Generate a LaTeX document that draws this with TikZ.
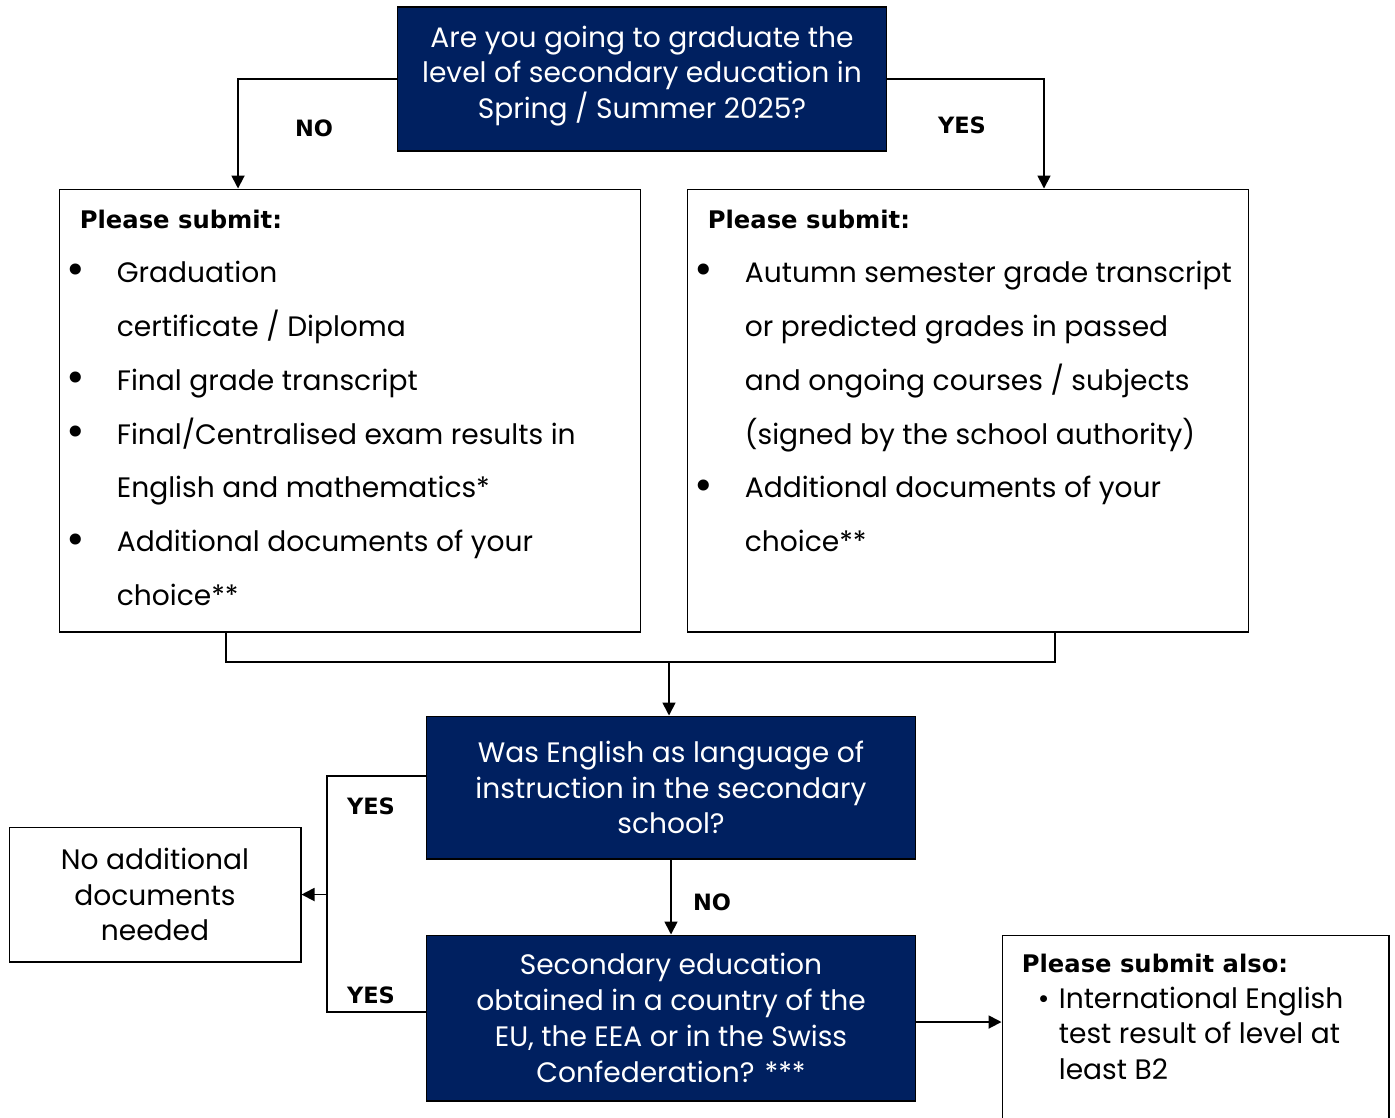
\documentclass[tikz,border=0pt]{standalone}
\usepackage{fontspec}
\setmainfont{Poppins}
\newfontfamily\headfont{DejaVu Sans}
\usetikzlibrary{positioning, arrows.meta}
\definecolor{colorQuestion}{RGB}{0,32,96}

\newcommand{\bul}{\raisebox{-0.15ex}{\scalebox{1.6}{\textbullet}}}
\newcommand{\itm}{\makebox[0.84cm][l]{\hspace*{-0.16cm}\bul}}
\newcommand{\cnt}{\hspace*{0.84cm}}

\begin{document}
\begin{tikzpicture}[
    x=0.02cm, y=-0.02cm,
    question/.style={rectangle, draw=black, fill=colorQuestion, text=white, line width=0.6pt,
                minimum width=9.8cm, align=center, inner sep=0pt, font=\fontsize{16}{20.4}\selectfont},
    listbox/.style={rectangle, draw=black, line width=0.6pt, inner sep=0pt},
    listtext/.style={anchor=north west, align=left, inner sep=0pt, font=\fontsize{16}{30.7}\selectfont},
    answer/.style={font=\headfont\bfseries\fontsize{12.8}{15}\selectfont},
    arrow/.style={-{Triangle[length=0.26cm, width=0.26cm]}, line width=1pt},
    link/.style={line width=1pt}
]
\useasboundingbox (0,0) rectangle (1395,1117);

% Question nodes
\node[question, minimum height=2.88cm, text depth=0.27cm] (Top) at (642,79) {Are you going to graduate the\\
level of secondary education in\\
Spring / Summer 2025?};

\node[question, minimum height=2.86cm] (Mid) at (671,787.5) {Was English as language of\\
instruction in the secondary\\
school?};

\node[question, minimum height=3.32cm] (Country) at (671,1018) {Secondary education\\
obtained in a country of the\\
EU, the EEA or in the Swiss\\
Confederation? ***};

% Document boxes
\node[listbox, minimum width=11.64cm, minimum height=8.86cm] (Left) at (350,410.5) {};
\node[listtext, below right=0.42cm and 0.32cm of Left.north west] (LeftText) {%
\hspace*{0.1cm}{\headfont\bfseries\fontsize{13.8}{15}\selectfont Please submit:}\\
\itm Graduation\\
\cnt certificate / Diploma\\
\itm Final grade transcript\\
\itm Final/Centralised exam results in\\
\cnt English and mathematics*\\
\itm Additional documents of your\\
\cnt choice**};

\node[listbox, minimum width=11.24cm, minimum height=8.86cm] (Right) at (968,410.5) {};
\node[listtext, below right=0.42cm and 0.32cm of Right.north west] (RightText) {%
\hspace*{0.1cm}{\headfont\bfseries\fontsize{13.8}{15}\selectfont Please submit:}\\
\itm Autumn semester grade transcript\\
\cnt or predicted grades in passed\\
\cnt and ongoing courses / subjects\\
\cnt (signed by the school authority)\\
\itm Additional documents of your\\
\cnt choice**};

\node[listbox, minimum width=5.84cm, minimum height=2.7cm, align=center,
      font=\fontsize{16}{20.4}\selectfont] (NoDocs) at (155,894.5) {No additional\\
documents\\
needed};

\node[listbox, minimum width=7.74cm, minimum height=3.9cm] (Also) at (1195.5,1032.5) {};
\node[listtext, font=\fontsize{16}{20.4}\selectfont, below right=0.38cm and 0.4cm of Also.north west] (AlsoText) {%
{\headfont\bfseries\fontsize{13.8}{15}\selectfont Please submit also:}\\
\hspace*{0.32cm}\makebox[0.42cm][l]{\textbullet}International English\\
\hspace*{0.74cm}test result of level at\\
\hspace*{0.74cm}least B2};

% Arrows
\coordinate (join) at (669,662);
\coordinate (split) at (327,894.5);

\draw[arrow] (Top.west) -| ([xshift=-2.24cm]Left.north);
\draw[arrow] (Top.east) -| ([xshift=1.52cm]Right.north);
\draw[link] ([xshift=-2.48cm]Left.south) |- (join) -| ([xshift=1.74cm]Right.south);
\draw[arrow] (join) -- (join |- Mid.north);
\draw[arrow] (Mid.south) -- (Country.north);
\draw[link] ([yshift=0.23cm]Mid.west) -| (split) |- ([yshift=0.12cm]Country.west);
\draw[arrow] (split) -- (NoDocs.east);
\draw[arrow] ([yshift=-0.08cm]Country.east) -- ([yshift=-0.08cm]Country.east -| Also.west);

% Answer labels
\node[answer] (no1) at (314,128) {NO};
\node[answer] (yes1) at (962,125) {YES};
\node[answer] (no2) at (712,902) {NO};
\node[answer] (yes2) at (371,806) {YES};
\node[answer] (yes3) at (371,995) {YES};

\end{tikzpicture}
\end{document}
